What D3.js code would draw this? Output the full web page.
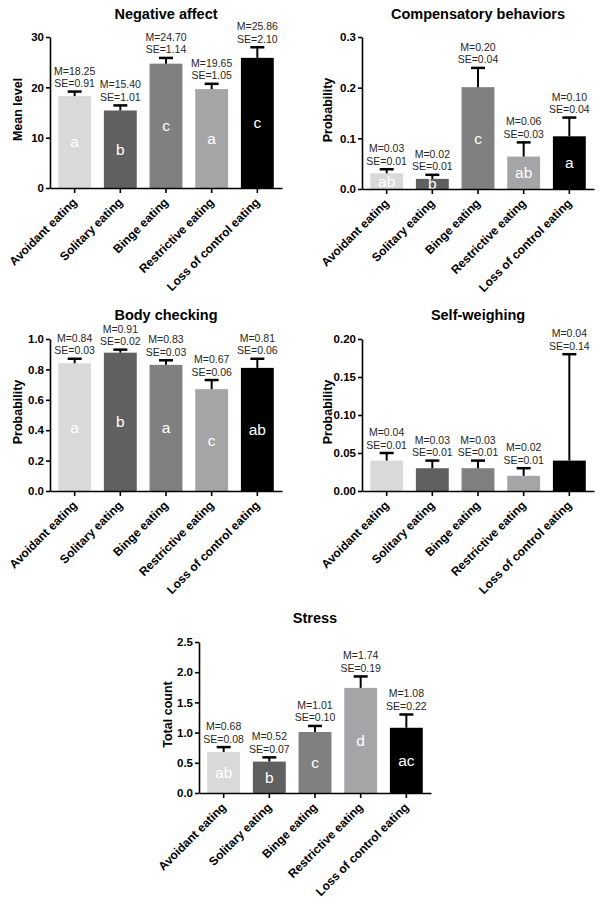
<!DOCTYPE html>
<html><head><meta charset="utf-8">
<script src="https://cdn.jsdelivr.net/npm/d3@7"></script>
<style>
body{margin:0;background:#fff;}
svg{display:block;font-family:"Liberation Sans",Arial,sans-serif;}
</style>
</head><body>
<svg id="chart" width="601" height="908"></svg>
<script>
// ---- data ----
const categories = ["Avoidant eating", "Solitary eating", "Binge eating", "Restrictive eating", "Loss of control eating"];

const negMeans = [18.25, 15.40, 24.70, 19.65, 25.86];
const negSE = [0.91, 1.01, 1.14, 1.05, 2.10];
const negLetters = ["a", "b", "c", "a", "c"];
const negTicks = [0, 10, 20, 30];

const compMeans = [0.031, 0.020, 0.201, 0.064, 0.104];
const compSE = [0.008, 0.008, 0.038, 0.028, 0.037];
const compLetters = ["ab", "b", "c", "ab", "a"];
const compTicks = [0, 0.1, 0.2, 0.3];

const bodyMeans = [0.84, 0.91, 0.83, 0.67, 0.81];
const bodySE = [0.03, 0.02, 0.03, 0.06, 0.06];
const bodyLetters = ["a", "b", "a", "c", "ab"];
const bodyTicks = [0, 0.2, 0.4, 0.6, 0.8, 1.0];

const weighMeans = [0.04, 0.03, 0.03, 0.02, 0.04];
const weighSE = [0.01, 0.01, 0.01, 0.01, 0.14];
const weighLetters = [];
const weighTicks = [0, 0.05, 0.10, 0.15, 0.20];

const stressMeans = [0.68, 0.52, 1.01, 1.74, 1.08];
const stressSE = [0.08, 0.07, 0.10, 0.19, 0.22];
const stressLetters = ["ab", "b", "c", "d", "ac"];
const stressTicks = [0, 0.5, 1.0, 1.5, 2.0, 2.5];

// ---- styles ----
const barColors = ["#d9d9d9", "#606060", "#808080", "#a5a5a8", "#000000"];

const svg = d3.select("#chart");
const fmt2 = d3.format(".2f");

function drawPanel(cfg) {
  const g = svg.append("g");
  const x = d3.scaleBand().domain(categories)
    .range([cfg.axisX, cfg.axisX + 232]).paddingInner(0.28).paddingOuter(0.18);
  const y = d3.scaleLinear().domain([0, cfg.ticks[cfg.ticks.length - 1]])
    .range([cfg.yBot, cfg.yTop]);

  const data = categories.map((c, i) => ({
    c, m: cfg.means[i], se: cfg.se[i], letter: cfg.letters[i], color: barColors[i]
  }));

  // bars
  g.selectAll("rect.bar").data(data).join("rect")
    .attr("x", d => x(d.c)).attr("width", x.bandwidth())
    .attr("y", d => y(d.m)).attr("height", d => y(0) - y(d.m))
    .attr("fill", d => d.color);

  // error bars
  const cx = d => x(d.c) + x.bandwidth() / 2;
  g.selectAll("line.err").data(data).join("line")
    .attr("x1", cx).attr("x2", cx)
    .attr("y1", d => y(d.m)).attr("y2", d => y(d.m + d.se))
    .attr("stroke", "#000").attr("stroke-width", 2);
  g.selectAll("line.cap").data(data).join("line")
    .attr("x1", d => cx(d) - 7).attr("x2", d => cx(d) + 7)
    .attr("y1", d => y(d.m + d.se)).attr("y2", d => y(d.m + d.se))
    .attr("stroke", "#000").attr("stroke-width", 2.5);

  // M / SE labels
  const lab = g.selectAll("text.lab").data(data).join("text")
    .attr("text-anchor", "middle").attr("font-size", 10.5).attr("fill", "#262626");
  lab.append("tspan").attr("x", cx).attr("y", d => y(d.m + d.se) - 17)
    .text(d => "M=" + fmt2(d.m));
  lab.append("tspan").attr("x", cx).attr("y", d => y(d.m + d.se) - 4.5)
    .text(d => "SE=" + fmt2(d.se));

  // significance letters
  g.selectAll("text.letter").data(data.filter(d => d.letter)).join("text")
    .attr("x", cx).attr("y", d => (y(d.m) + y(0)) / 2)
    .attr("dy", "0.35em").attr("text-anchor", "middle")
    .attr("font-size", 15.5).attr("fill", "#fff")
    .text(d => d.letter);

  // y axis
  const ya = g.append("g").attr("transform", `translate(${cfg.axisX},0)`)
    .call(d3.axisLeft(y).tickValues(cfg.ticks).tickFormat(cfg.fmt).tickSize(4).tickSizeOuter(0).tickPadding(2));
  ya.selectAll("text").attr("font-size", 11.5).attr("font-weight", "bold").attr("fill", "#000")
    .attr("font-family", '"Liberation Sans",Arial,sans-serif');
  ya.selectAll("path,line").attr("stroke", "#000").attr("stroke-width", 1.6);

  // x axis
  const xa = g.append("g").attr("transform", `translate(0,${cfg.yBot})`)
    .call(d3.axisBottom(x).tickSize(5).tickSizeOuter(0));
  xa.selectAll("path,line").attr("stroke", "#000").attr("stroke-width", 1.6);
  xa.selectAll("text")
    .attr("font-size", 12).attr("font-weight", "bold").attr("fill", "#000")
    .attr("font-family", '"Liberation Sans",Arial,sans-serif')
    .attr("text-anchor", "end")
    .attr("x", 0).attr("y", 0).attr("dy", 0)
    .attr("transform", "translate(3,15) rotate(-45)");

  // title
  g.append("text").attr("x", cfg.axisX + 116).attr("y", cfg.titleY)
    .attr("text-anchor", "middle").attr("font-size", 14.5).attr("font-weight", "bold")
    .text(cfg.title);

  // y label
  const ly = (cfg.yTop + cfg.yBot) / 2 - 3;
  g.append("text")
    .attr("transform", `translate(${cfg.axisX - cfg.labOff},${ly}) rotate(-90)`)
    .attr("dy", "0.35em").attr("text-anchor", "middle")
    .attr("font-size", 12.5).attr("font-weight", "bold")
    .text(cfg.ylabel);
}

drawPanel({title: "Negative affect", ylabel: "Mean level", means: negMeans, se: negSE, letters: negLetters,
  ticks: negTicks, fmt: d3.format("d"), axisX: 50, yTop: 37, yBot: 188, titleY: 18.5, labOff: 32});
drawPanel({title: "Compensatory behaviors", ylabel: "Probability", means: compMeans, se: compSE, letters: compLetters,
  ticks: compTicks, fmt: d3.format(".1f"), axisX: 362, yTop: 37, yBot: 189, titleY: 18.5, labOff: 34});
drawPanel({title: "Body checking", ylabel: "Probability", means: bodyMeans, se: bodySE, letters: bodyLetters,
  ticks: bodyTicks, fmt: d3.format(".1f"), axisX: 50, yTop: 339, yBot: 491, titleY: 320, labOff: 32});
drawPanel({title: "Self-weighing", ylabel: "Probability", means: weighMeans, se: weighSE, letters: weighLetters,
  ticks: weighTicks, fmt: d3.format(".2f"), axisX: 362, yTop: 339, yBot: 491, titleY: 320, labOff: 34});
drawPanel({title: "Stress", ylabel: "Total count", means: stressMeans, se: stressSE, letters: stressLetters,
  ticks: stressTicks, fmt: d3.format(".1f"), axisX: 199, yTop: 642, yBot: 793, titleY: 623, labOff: 31});
</script>
</body></html>
